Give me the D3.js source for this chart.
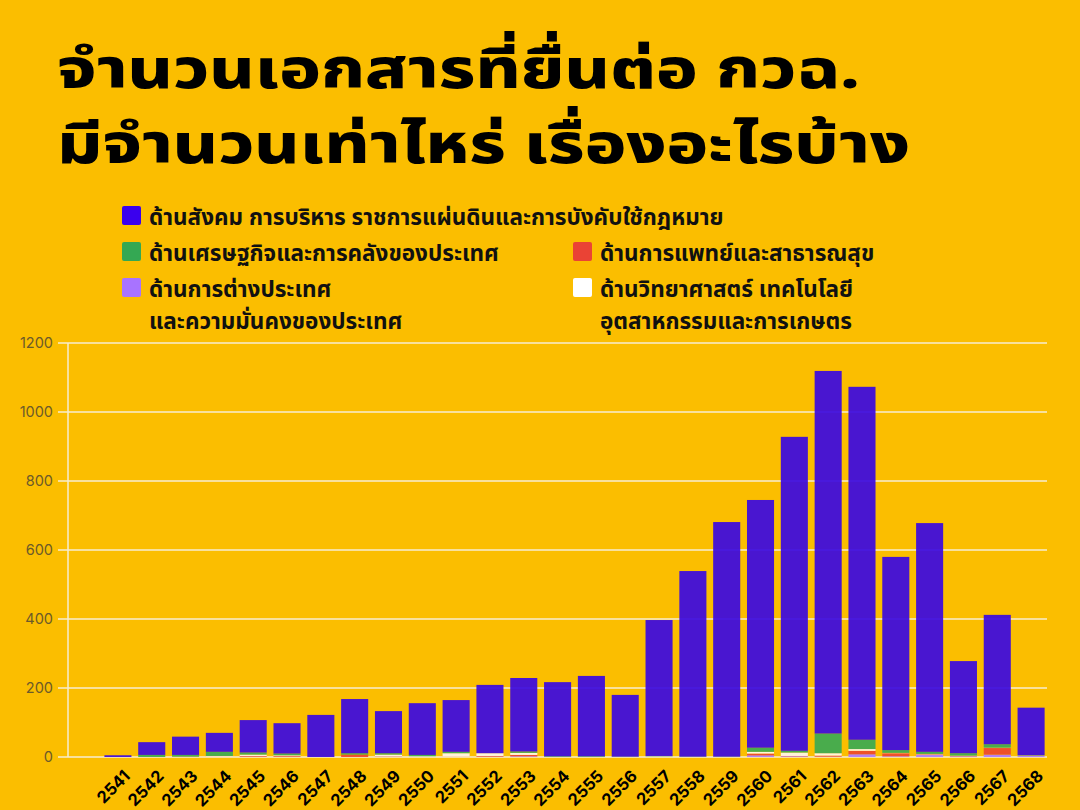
<!DOCTYPE html>
<html><head><meta charset="utf-8">
<script src="https://cdn.jsdelivr.net/npm/d3@7"></script>
<style>
html,body{margin:0;padding:0;background:#fbbe00;}
svg{display:block;}
</style></head>
<body>
<svg id="c" width="1080" height="810"></svg>
<script>
const years = ["2541","2542","2543","2544","2545","2546","2547","2548","2549","2550","2551","2552","2553","2554","2555","2556","2557","2558","2559","2560","2561","2562","2563","2564","2565","2566","2567","2568"];
const totals   = [5,43,59,70,107,98,122,168,133,156,165,209,229,217,235,180,397,539,681,745,928,1119,1073,580,678,278,412,143];
const foreign  = [0,0,0,0,1,1,0,0,1,0,0,1,2,0,0,0,1,0,0,5,2,1,8,2,7,2,7,3];
const medical  = [0,0,1,1,2,2,0,7,1,0,1,2,4,0,0,0,0,0,0,5,1,3,10,9,1,1,19,0];
const science  = [0,0,0,2,4,2,0,0,5,2,10,8,6,0,0,0,1,0,0,5,10,7,5,1,1,1,1,1];
const economic = [0,6,5,12,6,5,0,4,4,4,4,0,4,2,2,1,1,1,1,12,5,57,27,8,6,7,10,1];
const social = totals.map((t,i)=>t-foreign[i]-medical[i]-science[i]-economic[i]);
const yTicks = [0,200,400,600,800,1000,1200];

const seriesNames = [
  "ด้านสังคม การบริหาร ราชการแผ่นดินและการบังคับใช้กฎหมาย",
  "ด้านเศรษฐกิจและการคลังของประเทศ",
  "ด้านการแพทย์และสาธารณสุข",
  ["ด้านการต่างประเทศ","และความมั่นคงของประเทศ"],
  ["ด้านวิทยาศาสตร์ เทคโนโลยี","อุตสาหกรรมและการเกษตร"]
];
const legendColors = ["#3a00ee","#34a853","#ea4335","#a873ff","#ffffff"];
const barColors = {foreign:"#b07dff", medical:"#ee4a2c", science:"#fff7e8", economic:"#3fab50", social:"#3a08e2"};

const svg = d3.select("#c");
const FONT = "'Noto Sans Thai','Noto Sans','Open Sans',sans-serif";

// Title
const titleLines = ["จำนวนเอกสารที่ยื่นต่อ กวฉ.","มีจำนวนเท่าไหร่ เรื่องอะไรบ้าง"];
const titleTargets = [[88,803],[163,853]];
titleLines.forEach((t,i)=>{
  svg.append("text").attr("x",57).attr("y",titleTargets[i][0])
    .attr("font-family",FONT).attr("font-weight",800).attr("font-size",54.5)
    .attr("fill","#000").attr("textLength",titleTargets[i][1]).attr("lengthAdjust","spacingAndGlyphs")
    .text(t);
});

// Legend
const legendItems = [
  {c:0,x:122,y:206,lines:[seriesNames[0]]},
  {c:1,x:122,y:242,lines:[seriesNames[1]]},
  {c:2,x:573,y:242,lines:[seriesNames[2]]},
  {c:3,x:122,y:278,lines:seriesNames[3]},
  {c:4,x:573,y:278,lines:seriesNames[4]}
];
legendItems.forEach(d=>{
  svg.append("rect").attr("x",d.x).attr("y",d.y).attr("width",19).attr("height",19).attr("rx",2)
    .attr("fill",legendColors[d.c]);
  d.lines.forEach((l,j)=>{
    svg.append("text").attr("x",d.x+27).attr("y",d.y+19+j*32)
      .attr("font-family",FONT).attr("font-weight",700).attr("font-size",22.5)
      .attr("fill","#111").text(l);
  });
});

// Chart
const y = d3.scaleLinear().domain([0,1200]).range([757,343]);
const x = d3.scaleBand().domain(years).range([101,1048]).paddingInner(0.2).paddingOuter(0.1);

const grid = svg.append("g");
grid.selectAll("line.g").data(yTicks).join("line")
  .attr("x1",58).attr("x2",1047).attr("y1",d=>y(d)).attr("y2",d=>y(d))
  .attr("stroke","#f7ecd0").attr("stroke-width",1.5);
grid.append("line").attr("x1",68).attr("x2",68).attr("y1",y(1200)).attr("y2",y(0))
  .attr("stroke","#f7ecd0").attr("stroke-width",1.5);
grid.selectAll("text").data(yTicks).join("text")
  .attr("x",53).attr("y",d=>y(d)).attr("dy","0.35em").attr("text-anchor","end")
  .attr("font-family","Inter, 'Open Sans', sans-serif").attr("font-size",14.5)
  .attr("fill","#6b5a2a").text(d=>d);

const keys = ["foreign","medical","science","economic","social"];
const rows = years.map((yr,i)=>({year:yr, foreign:foreign[i], medical:medical[i], science:science[i], economic:economic[i], social:social[i]}));
const stack = d3.stack().keys(keys)(rows);
const bars = svg.append("g");
stack.forEach(s=>{
  bars.append("g").attr("fill",barColors[s.key]).attr("fill-opacity",s.key==="social"?0.92:0.95)
    .selectAll("rect").data(s).join("rect")
    .attr("x",d=>x(d.data.year)).attr("width",x.bandwidth())
    .attr("y",d=>y(d[1])).attr("height",d=>Math.max(0,y(d[0])-y(d[1])));
});

// X labels
svg.append("g").selectAll("text").data(years).join("text")
  .attr("transform",d=>`translate(${x(d)+x.bandwidth()/2+5},769) rotate(-45)`)
  .attr("text-anchor","end").attr("dy","0.7em")
  .attr("font-family","Inter, 'Open Sans', sans-serif").attr("font-weight",700).attr("font-size",16.5)
  .attr("fill","#000").text(d=>d);
</script>
</body></html>
